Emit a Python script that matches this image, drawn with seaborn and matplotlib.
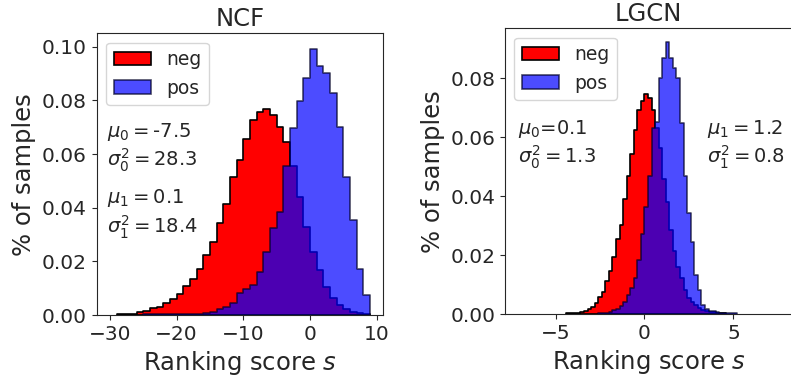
import numpy as np
import pandas as pd
import seaborn as sns
import matplotlib
matplotlib.use("Agg")
import matplotlib.pyplot as plt

# NCF: bins of width 1, left edges
ncf_neg_start = -29
ncf_neg = [0.0005, 0.0005, 0.0005, 0.001, 0.0016, 0.0025, 0.003, 0.0043, 0.0058, 0.0077,
           0.0108, 0.0133, 0.017, 0.0224, 0.0272, 0.0344, 0.0414, 0.0516, 0.0578, 0.0655,
           0.0725, 0.0758, 0.0768, 0.0745, 0.070, 0.0645, 0.0555, 0.0441, 0.0329, 0.0235,
           0.0168, 0.0106, 0.0062, 0.0036, 0.0021, 0.0012, 0.0006, 0.0002]
ncf_pos_start = -25
ncf_pos = [0.0002, 0.0002, 0.0002, 0.0003, 0.0003, 0.0004, 0.0004, 0.0005, 0.0005, 0.0006,
           0.0012, 0.0021, 0.0031, 0.0043, 0.0081, 0.0096, 0.0112, 0.0161, 0.0236, 0.0323,
           0.0385, 0.0555, 0.0698, 0.0798, 0.0882, 0.099, 0.0928, 0.0903, 0.0829, 0.0702,
           0.0516, 0.0354, 0.017, 0.0075]

# LGCN: bins of width 0.2
lgcn_neg_start = -4.4
lgcn_neg = [0.0002, 0.0002, 0.0003, 0.0004, 0.0006, 0.0009, 0.0016, 0.0025, 0.0038, 0.0057,
            0.0076, 0.0113, 0.0147, 0.0192, 0.0255, 0.0302, 0.039, 0.047, 0.0545, 0.0625,
            0.0692, 0.0722, 0.0748, 0.0734, 0.0692, 0.063, 0.0562, 0.046, 0.038, 0.0285,
            0.0215, 0.016, 0.0122, 0.0081, 0.0055, 0.004, 0.003, 0.002, 0.0014, 0.001,
            0.0007, 0.0006, 0.0004, 0.0003, 0.0002]
lgcn_pos_start = -2.6
lgcn_pos = [0.0002, 0.0003, 0.0005, 0.0008, 0.0012, 0.0018, 0.0026, 0.0042, 0.0064, 0.0088,
            0.0122, 0.0185, 0.027, 0.0365, 0.047, 0.0632, 0.0653, 0.080, 0.0868, 0.0924,
            0.0868, 0.0836, 0.080, 0.0647, 0.047, 0.0344, 0.0245, 0.0132, 0.0081, 0.003,
            0.0016, 0.0011, 0.0009, 0.0006, 0.0005, 0.0004, 0.0003, 0.0002, 0.0002]


def hist_frame(start, width, values):
    edges = np.round(start + width * np.arange(len(values) + 1), 3)
    centers = (edges[:-1] + edges[1:]) / 2
    return list(edges), pd.DataFrame({"score": centers, "frac": values})


sns.set_style("ticks")
plt.rcParams["font.family"] = ["DejaVu Sans"]

fig = plt.figure(figsize=(7.91, 3.85), dpi=100)
ax1 = fig.add_axes([0.1222, 0.1818, 0.362, 0.7317])
ax2 = fig.add_axes([0.6384, 0.1844, 0.3628, 0.742])

panels = [
    (ax1, "NCF", 1.0, ncf_neg_start, ncf_neg, ncf_pos_start, ncf_pos),
    (ax2, "LGCN", 0.2, lgcn_neg_start, lgcn_neg, lgcn_pos_start, lgcn_pos),
]

for ax, name, width, ns, neg, ps, pos in panels:
    e, df = hist_frame(ns, width, neg)
    sns.histplot(data=df, x="score", weights="frac", bins=e, element="step", fill=True,
                 color="red", alpha=1, edgecolor="black", linewidth=1.2,
                 label="neg", ax=ax)
    e, df = hist_frame(ps, width, pos)
    sns.histplot(data=df, x="score", weights="frac", bins=e, element="step", fill=True,
                 color="blue", alpha=0.7, edgecolor=(0, 0, 0.15, 0.7), linewidth=1.2,
                 label="pos", ax=ax)
    ax.set_title(name, fontsize=17.5, pad=5)
    ax.set_xlabel("Ranking score $s$", fontsize=17.5)
    ax.set_ylabel("% of samples", fontsize=17.5)
    ax.tick_params(labelsize=14.5)
    ax.legend(loc="upper left", fontsize=13.5)

ax1.set_xlim(-32, 10.95)
ax1.set_ylim(0, 0.105)
ax1.set_xticks([-30, -20, -10, 0, 10])
ax1.set_yticks([0, 0.02, 0.04, 0.06, 0.08, 0.10])
ax1.set_yticklabels(["0.00", "0.02", "0.04", "0.06", "0.08", "0.10"])
ax1.text(-30.4, 0.0624, r"$\mu_0=$-7.5" + "\n" + r"$\sigma_0^2=28.3$", va="center", fontsize=14)
ax1.text(-30.4, 0.0376, r"$\mu_1=0.1$" + "\n" + r"$\sigma_1^2=18.4$", va="center", fontsize=14)

ax2.set_xlim(-7.84, 8.29)
ax2.set_ylim(0, 0.097)
ax2.set_xticks([-5, 0, 5])
ax2.set_yticks([0, 0.02, 0.04, 0.06, 0.08])
ax2.set_yticklabels(["0.00", "0.02", "0.04", "0.06", "0.08"])
ax2.text(-7.1, 0.0576, r"$\mu_0$=0.1" + "\n" + r"$\sigma_0^2=1.3$", va="center", fontsize=14)
ax2.text(3.54, 0.0576, r"$\mu_1=1.2$" + "\n" + r"$\sigma_1^2=0.8$", va="center", fontsize=14)

fig.savefig("out.png", dpi=100)
